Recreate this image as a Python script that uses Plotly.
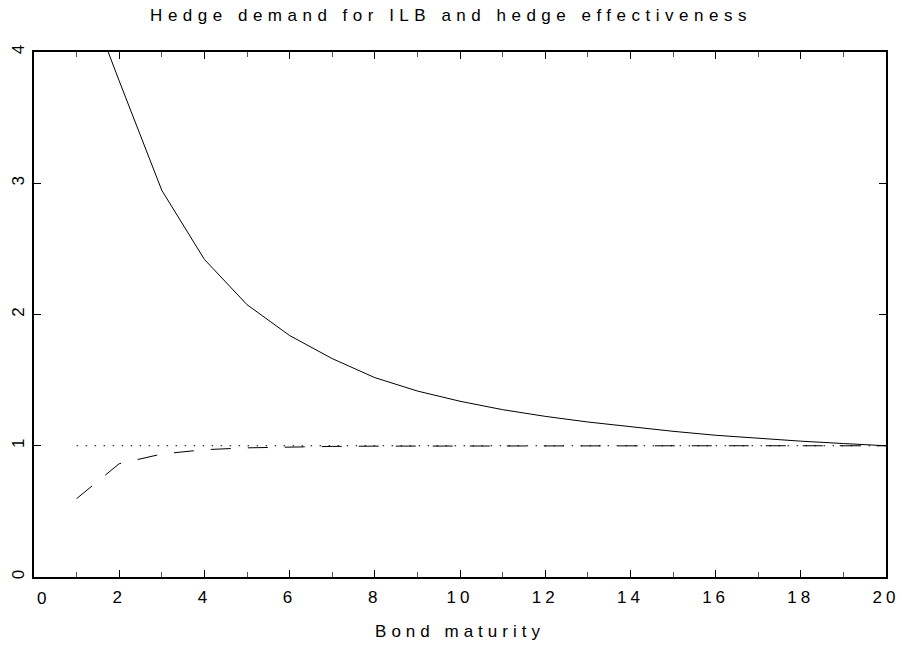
import plotly.graph_objects as go

maturity = list(range(1, 21))
hedge_demand = [4.63, 3.78, 2.946, 2.42, 2.075, 1.84, 1.664, 1.519, 1.417, 1.339,
                1.275, 1.224, 1.181, 1.145, 1.11, 1.08, 1.055, 1.035, 1.017, 1.0]
hedge_effect = [0.597, 0.863, 0.937, 0.97, 0.984, 0.991, 0.995, 0.997, 0.998, 0.999,
                1.0, 1.0, 1.0, 1.0, 1.0, 1.0, 1.0, 1.0, 1.0, 1.0]
reference = [1.0] * 20

title_text = "Hedge demand for ILB and hedge effectiveness"
x_title = "Bond maturity"
x_ticks = [0, 2, 4, 6, 8, 10, 12, 14, 16, 18, 20]
y_ticks = [0, 1, 2, 3, 4]

FONT = "Liberation Sans"
FS = 17

fig = go.Figure()
fig.add_trace(go.Scatter(x=maturity, y=reference, mode="lines",
                         line=dict(color="black", width=1, dash="1.5px,7.5px"),
                         showlegend=False, hoverinfo="skip"))
fig.add_trace(go.Scatter(x=maturity, y=hedge_effect, mode="lines",
                         line=dict(color="black", width=1, dash="20px,17px"),
                         showlegend=False))
fig.add_trace(go.Scatter(x=maturity, y=hedge_demand, mode="lines",
                         line=dict(color="black", width=1),
                         showlegend=False))

fig.update_layout(
    width=902, height=650,
    margin=dict(l=34, r=16, t=52, b=73),
    paper_bgcolor="white", plot_bgcolor="white",
    font=dict(family=FONT, size=FS, color="black"),
    title=dict(text=title_text, x=0.5, xanchor="center",
               y=1 - 15 / 650, yanchor="middle", yref="container",
               font=dict(family=FONT, size=FS, color="black")),
)
fig.update_xaxes(
    range=[0, 20], tickvals=x_ticks,
    ticktext=[("" if v == 0 else str(v)) for v in x_ticks],
    ticks="inside", ticklen=7, tickwidth=1, tickcolor="black",
    minor=dict(dtick=1, ticks="inside", ticklen=5, tickwidth=1, tickcolor="#555"),
    showline=True, linewidth=2, linecolor="black", mirror="allticks",
    showgrid=False, zeroline=False, automargin=False,
    title=dict(text=x_title, standoff=19, font=dict(size=FS)),
    tickfont=dict(size=FS), ticklabelstandoff=4,
)
fig.update_yaxes(
    range=[0, 4], tickvals=y_ticks,
    ticks="inside", ticklen=7, tickwidth=1, tickcolor="black",
    showline=True, linewidth=2, linecolor="black", mirror="allticks",
    showgrid=False, zeroline=False, tickangle=-90, automargin=False,
    tickfont=dict(size=FS), ticklabelstandoff=1,
)
fig.add_annotation(x=0, y=0, xref="x", yref="paper", text="0", showarrow=False,
                   yanchor="top", yshift=-10, xshift=7, font=dict(size=FS))

post = """
var s=document.createElement('style');
s.innerHTML='body{margin:0;overflow:hidden;} .gtitle{letter-spacing:5.5px;} .g-xtitle text{letter-spacing:5px;} .xtick text{letter-spacing:4px;}';
document.head.appendChild(s);
"""
fig.write_html("out.html", post_script=post, config={"displayModeBar": False})
